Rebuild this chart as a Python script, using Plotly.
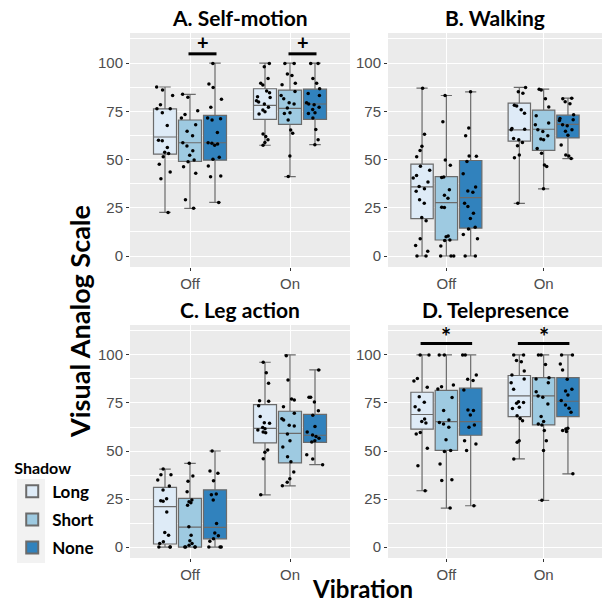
import plotly.graph_objects as go

vibration = ["Off", "On"]
shadows = ["Long", "Short", "None"]
fill_colors = ["#DEEBF7", "#9ECAE1", "#3182BD"]
panel_titles = ["A. Self-motion", "B. Walking", "C. Leg action", "D. Telepresence"]
y_ticks = [0, 25, 50, 75, 100]

# ---- box statistics, per shadow: [Off, On] ----
A_lo = {"Long": [22.6, 57.4], "Short": [24.7, 41.1], "None": [27.8, 57.7]}
A_q1 = {"Long": [52.8, 70.8], "Short": [49.1, 68.2], "None": [49.7, 70.8]}
A_med = {"Long": [61.7, 78.1], "Short": [58.7, 76.5], "None": [58.7, 78.8]}
A_q3 = {"Long": [76.3, 86.7], "Short": [70.5, 86.0], "None": [72.9, 86.5]}
A_hi = {"Long": [87.6, 100], "Short": [83.8, 100], "None": [100, 100]}

B_lo = {"Long": [0, 27.3], "Short": [0, 34.8], "None": [0, 50.5]}
B_q1 = {"Long": [19.4, 59.5], "Short": [8.3, 54.8], "None": [14.5, 61.2]}
B_med = {"Long": [35.8, 65.4], "Short": [27.7, 65.7], "None": [30.3, 68.2]}
B_q3 = {"Long": [47.6, 79.2], "Short": [41.2, 75.6], "None": [49.5, 73.0]}
B_hi = {"Long": [87.0, 87.4], "Short": [83.2, 86.5], "None": [85.1, 81.8]}

C_lo = {"Long": [0, 27.2], "Short": [0, 31.9], "None": [0, 42.9]}
C_q1 = {"Long": [1.6, 54.2], "Short": [0, 43.8], "None": [4.3, 54.5]}
C_med = {"Long": [21.0, 61.8], "Short": [10.4, 59.2], "None": [10.2, 58.2]}
C_q3 = {"Long": [31.1, 74.1], "Short": [25.3, 70.7], "None": [29.8, 69.1]}
C_hi = {"Long": [40.6, 96.2], "Short": [43.6, 100], "None": [50, 92.2]}

D_lo = {"Long": [29.3, 45.9], "Short": [20.3, 24.3], "None": [21.5, 38.1]}
D_q1 = {"Long": [61.4, 67.9], "Short": [50.3, 63.6], "None": [58.2, 67.9]}
D_med = {"Long": [69.0, 78.7], "Short": [65.3, 78.7], "None": [65.3, 75.9]}
D_q3 = {"Long": [80.6, 89.3], "Short": [81.6, 88.2], "None": [82.7, 88.2]}
D_hi = {"Long": [100, 100], "Short": [100, 100], "None": [100, 100]}

# ---- individual ratings (jittered points) ----
A_long_off = [87.6, 86.0, 83.2, 78.4, 76.3, 76.3, 74.2, 67.6, 60.0, 59.7, 56.2, 53.8, 53.1, 51.4, 47.6, 43.5, 40.0, 22.6]
A_short_off = [83.8, 82.3, 75.3, 73.3, 71.6, 68.1, 64.7, 62.3, 58.7, 57.0, 54.6, 52.2, 49.8, 48.9, 46.3, 42.9, 29.1, 24.7]
A_none_off = [99.8, 89.1, 87.4, 81.2, 77.1, 71.6, 71.2, 70.5, 64.0, 58.7, 58.4, 58.0, 57.4, 51.2, 50.1, 46.6, 41.5, 41.1, 27.8]
A_long_on = [99.8, 98.1, 92.0, 89.5, 88.6, 85.5, 84.6, 82.6, 82.2, 80.5, 79.8, 78.8, 77.1, 75.7, 74.8, 73.6, 63.3, 61.9, 60.2, 58.8, 57.4]
A_short_on = [99.8, 99.8, 94.3, 93.6, 89.5, 88.8, 85.3, 83.2, 81.5, 79.4, 78.8, 76.7, 74.3, 73.9, 70.5, 65.3, 63.6, 51.9, 41.2]
A_none_on = [99.8, 99.8, 92.0, 89.5, 86.7, 84.3, 83.2, 79.4, 78.8, 78.4, 77.1, 76.0, 74.3, 73.9, 71.5, 65.6, 60.2, 57.7]

B_long_off = [87.0, 63.1, 56.9, 54.7, 51.4, 46.5, 44.5, 41.7, 40.5, 38.4, 36.0, 34.9, 33.6, 29.1, 27.3, 19.9, 18.3, 9.0, 5.4, 2.4, 0, 0]
B_short_off = [83.2, 69.6, 49.8, 47.1, 41.0, 40.7, 34.3, 31.5, 29.9, 25.3, 25.1, 10.4, 10.0, 8.3, 8.0, 5.2, 0, 0, 0]
B_none_off = [85.1, 66.4, 62.3, 51.9, 51.7, 49.0, 42.6, 35.8, 33.7, 33.0, 27.3, 25.6, 22.1, 19.4, 14.9, 14.0, 11.2, 9.0, 0, 0]
B_long_on = [87.4, 85.1, 84.4, 78.2, 77.7, 75.8, 74.0, 66.1, 65.7, 65.4, 60.9, 60.2, 58.8, 57.1, 52.4, 50.9, 27.3]
B_short_on = [86.5, 86.0, 81.5, 77.2, 72.7, 68.9, 68.0, 65.4, 64.5, 62.3, 60.6, 60.2, 55.7, 53.3, 47.2, 46.4, 34.8]
B_none_on = [81.8, 81.5, 79.9, 78.9, 73.2, 71.3, 70.6, 70.2, 68.0, 67.5, 65.4, 64.7, 62.6, 57.6, 52.4, 51.9, 50.5]

C_long_off = [40.6, 37.7, 37.7, 34.9, 31.8, 29.7, 25.2, 24.1, 23.8, 18.2, 7.6, 6.1, 2.8, 1.9, 0, 0, 0]
C_short_off = [43.6, 37.0, 34.2, 28.8, 24.5, 23.6, 23.1, 21.7, 10.6, 6.1, 3.3, 1.9, 0.9, 0, 0, 0, 0]
C_none_off = [50.0, 39.6, 38.4, 34.5, 27.6, 27.2, 24.5, 12.3, 7.3, 5.9, 4.3, 3.0, 0, 0, 0]
C_long_on = [96.2, 90.8, 85.3, 76.2, 75.9, 73.6, 67.9, 64.7, 64.4, 62.3, 61.6, 60.9, 59.9, 59.5, 50.5, 49.3, 46.0, 27.2]
C_short_on = [99.6, 87.0, 77.1, 76.6, 73.1, 69.6, 66.8, 66.1, 63.4, 63.0, 58.9, 55.4, 52.1, 47.0, 44.4, 39.1, 35.6, 33.7, 31.9]
C_none_on = [92.2, 78.0, 78.0, 75.5, 71.0, 68.6, 62.8, 59.9, 58.3, 57.5, 56.6, 55.4, 54.7, 48.1, 45.8, 42.9]

D_long_off = [100, 100, 87.7, 86.5, 83.2, 78.3, 75.4, 73.1, 71.4, 66.7, 65.3, 64.6, 59.6, 58.9, 51.5, 42.3, 29.3]
D_short_off = [100, 100, 84.4, 83.5, 82.3, 77.8, 71.1, 66.2, 64.8, 64.0, 62.4, 55.8, 50.3, 49.7, 43.3, 35.0, 34.7, 20.3]
D_none_off = [100, 100, 89.6, 87.3, 86.7, 81.8, 71.4, 71.1, 68.8, 63.6, 62.4, 55.3, 53.7, 50.3, 21.5]
D_long_on = [100, 100, 97.1, 96.5, 91.7, 89.6, 87.5, 85.6, 82.1, 75.7, 75.2, 74.9, 72.8, 72.1, 68.3, 66.9, 65.7, 55.3, 54.6, 45.9]
D_short_on = [100, 100, 95.1, 88.2, 87.5, 85.6, 80.9, 78.7, 78.0, 74.5, 67.9, 65.3, 64.0, 63.6, 60.7, 55.3, 50.3, 24.3]
D_none_on = [100, 100, 95.3, 92.2, 87.3, 82.1, 81.3, 79.2, 76.3, 74.0, 72.3, 70.2, 61.9, 61.4, 60.7, 60.1, 38.1]

# significance brackets: (panel, vibration, from shadow, to shadow, label, y)
sig_brackets = [
    (0, "Off", "Short", "None", "+", 104.8),
    (0, "On", "Short", "None", "+", 104.8),
    (3, "Off", "Long", "None", "*", 106.0),
    (3, "On", "Long", "None", "*", 106.0),
]

stats = [
    (A_lo, A_q1, A_med, A_q3, A_hi),
    (B_lo, B_q1, B_med, B_q3, B_hi),
    (C_lo, C_q1, C_med, C_q3, C_hi),
    (D_lo, D_q1, D_med, D_q3, D_hi),
]
points = [
    {"Long": (A_long_off, A_long_on), "Short": (A_short_off, A_short_on), "None": (A_none_off, A_none_on)},
    {"Long": (B_long_off, B_long_on), "Short": (B_short_off, B_short_on), "None": (B_none_off, B_none_on)},
    {"Long": (C_long_off, C_long_on), "Short": (C_short_off, C_short_on), "None": (C_none_off, C_none_on)},
    {"Long": (D_long_off, D_long_on), "Short": (D_short_off, D_short_on), "None": (D_none_off, D_none_on)},
]

W, H = 611, 603
ML, MR, MT, MB = 130, 9, 33, 45
PW, PH = W - ML - MR, H - MT - MB

def px_x(p):
    return (p - ML) / PW

def px_y(p):
    return (H - MB - p) / PH

x_domains = [[px_x(130), px_x(350)], [px_x(388), px_x(602)], [px_x(130), px_x(350)], [px_x(388), px_x(602)]]
y_domains = [[px_y(267), px_y(33)], [px_y(267), px_y(33)], [px_y(558), px_y(325)], [px_y(558), px_y(325)]]

BOX_LINE = "#6b6b6b"
GROUP_WIDTH = 0.75
slot = GROUP_WIDTH / len(shadows)

fig = go.Figure()
box_traces, pt_traces = [], []
for p in range(4):
    ax = "" if p == 0 else str(p + 1)
    lo, q1, med, q3, hi = stats[p]
    for s, col in zip(shadows, fill_colors):
        box_traces.append(go.Box(
            x=vibration, q1=q1[s], median=med[s], q3=q3[s],
            lowerfence=lo[s], upperfence=hi[s],
            name="<b>" + s + "</b>", legendgroup=s, showlegend=(p == 0),
            fillcolor=col, line=dict(color=BOX_LINE, width=1.2),
            whiskerwidth=0.5, boxpoints=False,
            offsetgroup=s, alignmentgroup="g" + str(p),
            xaxis="x" + ax, yaxis="y" + ax, hoverinfo="skip",
        ))
        off_vals, on_vals = points[p][s]
        pt_traces.append(go.Box(
            x=["Off"] * len(off_vals) + ["On"] * len(on_vals),
            y=off_vals + on_vals,
            name=s, showlegend=False,
            fillcolor="rgba(0,0,0,0)", line=dict(color="rgba(0,0,0,0)", width=0),
            boxpoints="all", jitter=0.85, pointpos=0,
            marker=dict(color="black", size=3.5, line=dict(width=0)),
            offsetgroup=s, alignmentgroup="g" + str(p),
            xaxis="x" + ax, yaxis="y" + ax,
        ))
for t in box_traces + pt_traces:
    fig.add_trace(t)

axis_font = dict(family="Liberation Sans, Arial", size=15, color="#4D4D4D")
layout = dict(
    width=W, height=H, margin=dict(l=ML, r=MR, t=MT, b=MB, autoexpand=False),
    paper_bgcolor="white", plot_bgcolor="#EBEBEB",
    boxmode="group", boxgap=1 - GROUP_WIDTH, boxgroupgap=0.08,
    font=dict(family="Lato", color="black"),
)
for p in range(4):
    ax = "" if p == 0 else str(p + 1)
    layout["xaxis" + ax] = dict(
        domain=x_domains[p], anchor="y" + ax, type="category",
        categoryorder="array", categoryarray=vibration, range=[-0.6, 1.6],
        showgrid=True, gridcolor="white", gridwidth=1.1, zeroline=False,
        ticks="outside", ticklen=3, tickcolor="#333333", tickfont=axis_font,
        showline=False, automargin=False,
    )
    layout["yaxis" + ax] = dict(
        domain=y_domains[p], anchor="x" + ax, range=[-5.7, 115.6],
        tickvals=y_ticks, showgrid=True, gridcolor="white", gridwidth=1.1,
        minor=dict(dtick=12.5, tick0=0, showgrid=True, gridcolor="white", gridwidth=0.5),
        zeroline=False, ticks="outside", ticklen=3, tickcolor="#333333",
        tickfont=axis_font, showline=False, automargin=False,
    )

annotations = []
for p, title in enumerate(panel_titles):
    xd, yd = x_domains[p], y_domains[p]
    annotations.append(dict(
        text="<b>" + title + "</b>", xref="paper", yref="paper",
        x=(xd[0] + xd[1]) / 2, y=yd[1], xanchor="center", yanchor="bottom", yshift=1,
        showarrow=False, font=dict(family="Lato", size=21, color="black"),
    ))
annotations.append(dict(
    text="<b>Visual Analog Scale</b>", xref="paper", yref="paper",
    x=px_x(79), y=px_y(322), xanchor="center", yanchor="middle",
    textangle=-90, showarrow=False,
    font=dict(family="Lato", size=27, color="black"),
))
annotations.append(dict(
    text="<b>Vibration</b>", xref="paper", yref="paper",
    x=px_x(362), y=px_y(588), xanchor="center", yanchor="middle", showarrow=False,
    font=dict(family="Lato", size=24, color="black"),
))

shapes = []
# light grey key background behind the legend glyphs
shapes.append(dict(type="rect", xref="paper", yref="paper", layer="below",
                   x0=px_x(17), x1=px_x(45), y0=px_y(563), y1=px_y(479),
                   fillcolor="#F2F2F2", line=dict(width=0)))
for p, vib, s_from, s_to, label, yv in sig_brackets:
    ax = "" if p == 0 else str(p + 1)
    c = vibration.index(vib)
    x0 = c + (shadows.index(s_from) - 1) * slot - 0.015
    x1 = c + (shadows.index(s_to) - 1) * slot + 0.015
    shapes.append(dict(type="line", xref="x" + ax, yref="y" + ax,
                       x0=x0, x1=x1, y0=yv, y1=yv,
                       line=dict(color="black", width=3)))
    is_plus = label == "+"
    annotations.append(dict(text="<b>" + label + "</b>", xref="x" + ax, yref="y" + ax,
                            x=(x0 + x1) / 2, y=yv, xanchor="center", yanchor="bottom",
                            yshift=-2 if is_plus else -10,
                            showarrow=False,
                            font=dict(family="Lato", size=20 if is_plus else 24, color="black")))

layout["annotations"] = annotations
layout["shapes"] = shapes
layout["legend"] = dict(
    title=dict(text="<b>Shadow</b>", font=dict(family="Lato", size=16, color="black")),
    xref="container", yref="container", x=0.02, y=1 - 453 / H,
    xanchor="left", yanchor="top",
    font=dict(family="Lato", size=17, color="black"),
    bgcolor="rgba(0,0,0,0)", itemsizing="constant", tracegroupgap=3,
)
fig.update_layout(**layout)
fig.write_html("out.html", config={"displayModeBar": False},
               post_script="document.body.style.margin='0';")
